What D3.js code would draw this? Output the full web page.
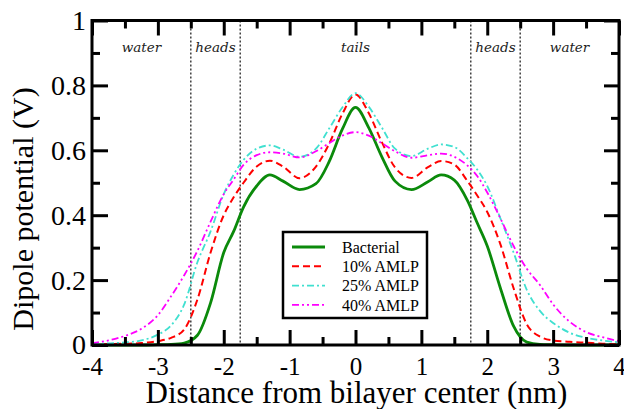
<!DOCTYPE html>
<html>
<head>
<meta charset="utf-8">
<script src="https://cdn.jsdelivr.net/npm/d3@7"></script>
<style>
  html, body { margin: 0; padding: 0; background: #fff; }
  svg { display: block; }
  svg text.serif { font-family: 'Liberation Serif', 'Nimbus Roman', Tinos, 'DejaVu Serif', serif; }
</style>
</head>
<body>
<svg id="chart" width="624" height="409"></svg>
<script>
/* ── DATA ── */
const distance  = [-4, -3.75, -3.5, -3.25, -3, -2.8, -2.6, -2.4, -2.2, -2, -1.85, -1.7, -1.5, -1.3, -1.1, -0.85, -0.6, -0.4, -0.2, 0,
                   0.2, 0.4, 0.6, 0.85, 1.1, 1.3, 1.5, 1.7, 1.85, 2, 2.2, 2.4, 2.6, 2.8, 3, 3.25, 3.5, 3.75, 4];
const bacterial = [0, 0, 0, 0, 0.001, 0.002, 0.006, 0.03, 0.13, 0.285, 0.35, 0.425, 0.49, 0.524, 0.505, 0.479, 0.497, 0.565, 0.665, 0.732,
                   0.67, 0.58, 0.505, 0.479, 0.503, 0.524, 0.508, 0.445, 0.375, 0.305, 0.175, 0.058, 0.009, 0.002, 0.001, 0, 0, 0, 0];
const amlp10    = [0.002, 0.003, 0.004, 0.006, 0.012, 0.022, 0.048, 0.14, 0.285, 0.40, 0.455, 0.50, 0.55, 0.568, 0.55, 0.514, 0.55, 0.62, 0.712, 0.772,
                   0.715, 0.625, 0.547, 0.515, 0.548, 0.567, 0.556, 0.505, 0.46, 0.41, 0.31, 0.175, 0.064, 0.026, 0.014, 0.01, 0.007, 0.004, 0.002];
const amlp25    = [0.003, 0.005, 0.008, 0.014, 0.032, 0.06, 0.125, 0.255, 0.35, 0.465, 0.525, 0.57, 0.605, 0.615, 0.602, 0.58, 0.605, 0.667, 0.732, 0.776,
                   0.735, 0.67, 0.605, 0.582, 0.605, 0.618, 0.61, 0.575, 0.54, 0.49, 0.39, 0.285, 0.17, 0.105, 0.068, 0.038, 0.022, 0.014, 0.008];
const amlp40    = [0.006, 0.014, 0.028, 0.05, 0.092, 0.15, 0.215, 0.29, 0.38, 0.465, 0.51, 0.555, 0.585, 0.594, 0.59, 0.578, 0.597, 0.622, 0.645, 0.656,
                   0.645, 0.622, 0.597, 0.577, 0.585, 0.59, 0.58, 0.553, 0.52, 0.47, 0.39, 0.305, 0.235, 0.185, 0.125, 0.072, 0.04, 0.024, 0.012];
const seriesNames = ['Bacterial', '10% AMLP', '25% AMLP', '40% AMLP'];
const xTicks = [-4, -3, -2, -1, 0, 1, 2, 3, 4];
const yTicks = [0, 0.2, 0.4, 0.6, 0.8, 1];
const regionEdges = [-4, -2.5, -1.75, 1.75, 2.5, 4];
const regionNames = ['water', 'heads', 'tails', 'heads', 'water'];

/* ── CHART ── */
(function () {
  const svg = d3.select('#chart');
  const x = d3.scaleLinear().domain([-4, 4]).range([92, 619]);
  const y = d3.scaleLinear().domain([0, 1]).range([345, 20.5]);
  const x0 = x.range()[0], x1 = x.range()[1];
  const yB = y.range()[0], yT = y.range()[1];

  const xMinor = d3.range(-3.5, 4, 1);
  const yMinor = d3.range(0.1, 1, 0.2);

  const styles = [
    { col: '#0b8a0b', w: 2.8, dash: null },
    { col: '#ff0000', w: 2, dash: '7,4' },
    { col: '#40e0d0', w: 1.8, dash: '7,3,2,3' },
    { col: '#ff00ff', w: 1.8, dash: '7,3,2,3,2,3' },
  ];
  const series = [bacterial, amlp10, amlp25, amlp40];

  // region separators
  regionEdges.slice(1, -1).forEach(e => {
    svg.append('line')
      .attr('x1', x(e)).attr('x2', x(e)).attr('y1', yT).attr('y2', yB)
      .attr('stroke', '#333').attr('stroke-width', 1.4).attr('stroke-dasharray', '2,2');
  });

  // region labels
  regionNames.forEach((n, i) => {
    svg.append('text')
      .attr('x', x((regionEdges[i] + regionEdges[i + 1]) / 2)).attr('y', 52)
      .attr('text-anchor', 'middle')
      .attr('font-family', '"DejaVu Serif", serif').attr('font-style', 'italic')
      .attr('font-size', 13.5).attr('fill', '#222')
      .text(n);
  });

  // curves
  const line = d3.line().x(d => x(d[0])).y(d => y(d[1])).curve(d3.curveMonotoneX);
  series.forEach((s, i) => {
    const st = styles[i];
    svg.append('path')
      .datum(distance.map((d, j) => [d, s[j]]))
      .attr('fill', 'none').attr('stroke', st.col).attr('stroke-width', st.w)
      .attr('stroke-dasharray', st.dash)
      .attr('d', line);
  });

  // axes, ticks inward on all four sides
  function styleAxis(g, fs) {
    g.select('.domain').remove();
    g.attr('font-family', null);
    g.selectAll('line').attr('stroke', '#000').attr('stroke-width', 3);
    g.selectAll('text').attr('class', 'serif').attr('font-size', fs).attr('fill', '#000');
  }
  const fmt = d => String(d);

  svg.append('g').attr('transform', `translate(0,${yB})`)
    .call(d3.axisBottom(x).tickValues(xTicks).tickSize(-15).tickPadding(12).tickFormat(fmt))
    .call(g => styleAxis(g, 25));
  svg.append('g').attr('transform', `translate(0,${yB})`)
    .call(d3.axisBottom(x).tickValues(xMinor).tickSize(-8).tickFormat(''))
    .call(g => styleAxis(g, 25));
  svg.append('g').attr('transform', `translate(0,${yT})`)
    .call(d3.axisTop(x).tickValues(xTicks).tickSize(-15).tickFormat(''))
    .call(g => styleAxis(g, 25));
  svg.append('g').attr('transform', `translate(0,${yT})`)
    .call(d3.axisTop(x).tickValues(xMinor).tickSize(-8).tickFormat(''))
    .call(g => styleAxis(g, 25));

  svg.append('g').attr('transform', `translate(${x0},0)`)
    .call(d3.axisLeft(y).tickValues(yTicks).tickSize(-16).tickPadding(6).tickFormat(fmt))
    .call(g => styleAxis(g, 28));
  svg.append('g').attr('transform', `translate(${x0},0)`)
    .call(d3.axisLeft(y).tickValues(yMinor).tickSize(-8).tickFormat(''))
    .call(g => styleAxis(g, 28));
  svg.append('g').attr('transform', `translate(${x1},0)`)
    .call(d3.axisRight(y).tickValues(yTicks).tickSize(-15).tickFormat(''))
    .call(g => styleAxis(g, 28));
  svg.append('g').attr('transform', `translate(${x1},0)`)
    .call(d3.axisRight(y).tickValues(yMinor).tickSize(-8).tickFormat(''))
    .call(g => styleAxis(g, 28));

  // frame
  svg.append('rect')
    .attr('x', x0).attr('y', yT).attr('width', x1 - x0).attr('height', yB - yT)
    .attr('fill', 'none').attr('stroke', '#000').attr('stroke-width', 3);

  // axis titles
  svg.append('text').attr('class', 'serif')
    .attr('x', 356.5).attr('y', 403).attr('text-anchor', 'middle')
    .attr('font-size', 31).text('Distance from bilayer center (nm)');
  svg.append('text').attr('class', 'serif')
    .attr('transform', 'translate(33,209) rotate(-90)').attr('text-anchor', 'middle')
    .attr('font-size', 30).text('Dipole potential (V)');

  // legend
  const lg = svg.append('g').attr('transform', 'translate(283,232)');
  lg.append('rect').attr('width', 144).attr('height', 86)
    .attr('fill', '#fff').attr('stroke', '#000').attr('stroke-width', 2.5);
  seriesNames.forEach((n, i) => {
    const st = styles[i];
    const ry = 15 + i * 19.3;
    lg.append('line')
      .attr('x1', 9).attr('x2', 42).attr('y1', ry).attr('y2', ry)
      .attr('stroke', st.col).attr('stroke-width', st.w).attr('stroke-dasharray', st.dash);
    lg.append('text').attr('class', 'serif')
      .attr('x', 59).attr('y', ry).attr('dy', '0.35em')
      .attr('font-size', 16).text(n);
  });
})();
</script>
</body>
</html>
